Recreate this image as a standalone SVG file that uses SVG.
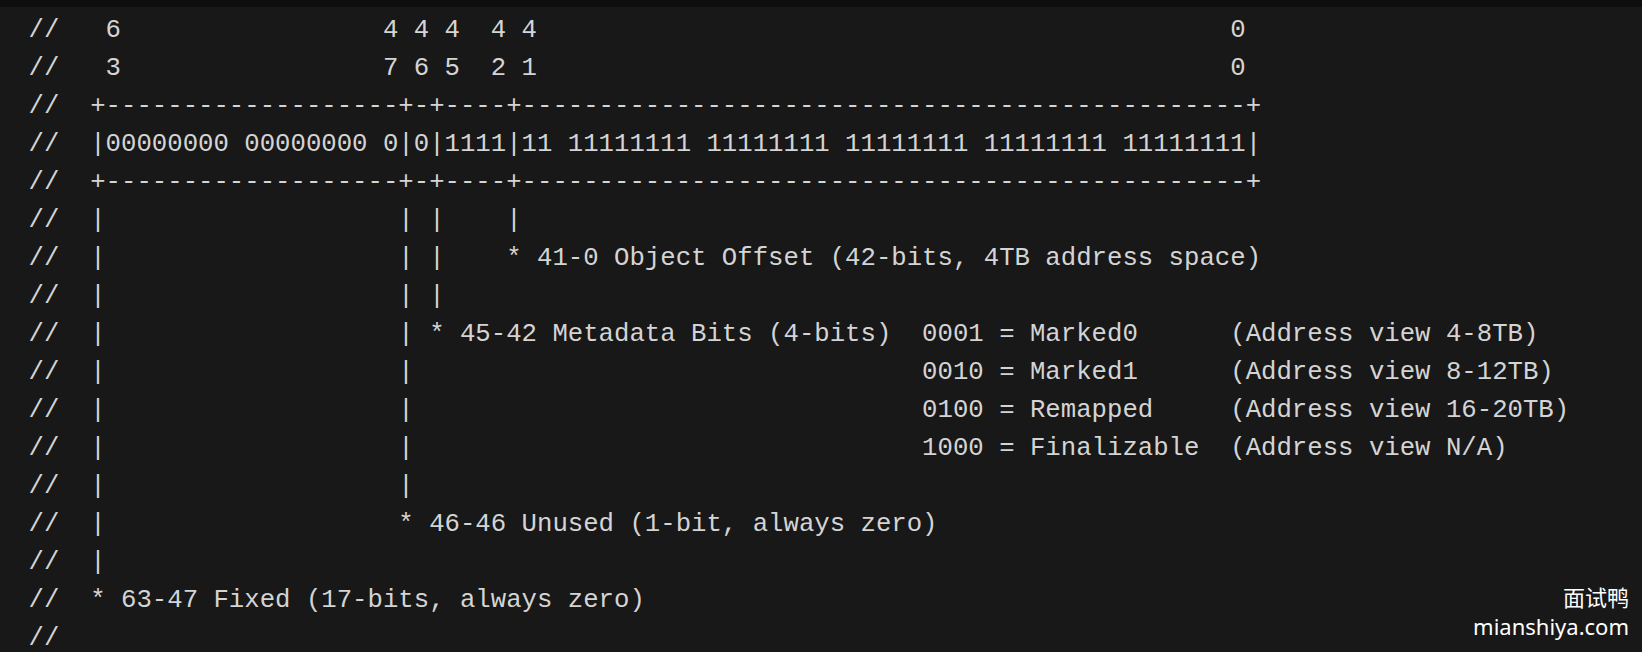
<svg xmlns="http://www.w3.org/2000/svg" width="1642" height="652" viewBox="0 0 1642 652">
<style>
.code{font-family:"Liberation Mono","DejaVu Sans Mono",monospace;font-size:25.68px;fill:#d4d4d4;white-space:pre}
.wm{font-family:"Noto Sans","Noto Sans CJK SC",sans-serif;fill:#ffffff;text-anchor:end}
</style>
<rect x="0" y="0" width="1642" height="652" fill="#181818"/>
<rect x="0" y="0" width="1642" height="7" fill="#0e0e0e"/>
<g id="bit-index-header">
<text class="code" xml:space="preserve" x="28.6" y="37.4">//   6                 4 4 4  4 4                                             0</text>
<text class="code" xml:space="preserve" x="28.6" y="75.4">//   3                 7 6 5  2 1                                             0</text>
</g>
<g id="bit-field-box">
<text class="code" xml:space="preserve" x="28.6" y="113.3">//  +-------------------+-+----+-----------------------------------------------+</text>
<text class="code" xml:space="preserve" x="28.6" y="151.3">//  |00000000 00000000 0|0|1111|11 11111111 11111111 11111111 11111111 11111111|</text>
<text class="code" xml:space="preserve" x="28.6" y="189.2">//  +-------------------+-+----+-----------------------------------------------+</text>
</g>
<g id="connectors">
<text class="code" xml:space="preserve" x="28.6" y="227.2">//  |                   | |    |</text>
<text class="code" xml:space="preserve" x="28.6" y="303.1">//  |                   | |</text>
<text class="code" xml:space="preserve" x="28.6" y="493.0">//  |                   |</text>
<text class="code" xml:space="preserve" x="28.6" y="568.8">//  |</text>
<text class="code" xml:space="preserve" x="28.6" y="644.7">//</text>
</g>
<g id="object-offset">
<text class="code" xml:space="preserve" x="28.6" y="265.2">//  |                   | |    * 41-0 Object Offset (42-bits, 4TB address space)</text>
</g>
<g id="metadata-bits">
<text class="code" xml:space="preserve" x="28.6" y="341.1">//  |                   | * 45-42 Metadata Bits (4-bits)  0001 = Marked0      (Address view 4-8TB)</text>
<text class="code" xml:space="preserve" x="28.6" y="379.0">//  |                   |                                 0010 = Marked1      (Address view 8-12TB)</text>
<text class="code" xml:space="preserve" x="28.6" y="417.0">//  |                   |                                 0100 = Remapped     (Address view 16-20TB)</text>
<text class="code" xml:space="preserve" x="28.6" y="455.0">//  |                   |                                 1000 = Finalizable  (Address view N/A)</text>
</g>
<g id="unused-bit">
<text class="code" xml:space="preserve" x="28.6" y="530.9">//  |                   * 46-46 Unused (1-bit, always zero)</text>
</g>
<g id="fixed-bits">
<text class="code" xml:space="preserve" x="28.6" y="606.8">//  * 63-47 Fixed (17-bits, always zero)</text>
</g>
<g id="watermark">
<text class="wm" x="1629" y="606" font-size="22" font-family="'Noto Sans CJK SC',sans-serif">面试鸭</text>
<text class="wm" x="1629" y="635" font-size="22">mianshiya.com</text>
</g>
</svg>
